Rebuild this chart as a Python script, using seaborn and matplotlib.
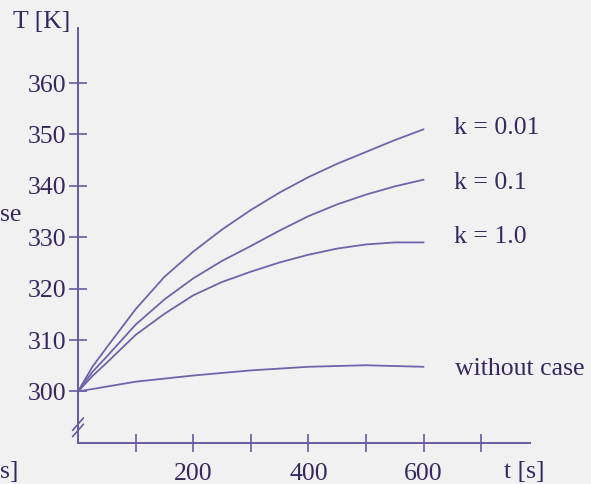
import numpy as np
import pandas as pd
import matplotlib
matplotlib.use("Agg")
import matplotlib.pyplot as plt
import seaborn as sns

# values
t = [0, 25, 50, 100, 150, 200, 250, 300, 350, 400, 450, 500, 550, 600]
T_k001 = [300, 304.8, 308.6, 316.0, 322.3, 327.2, 331.5, 335.3, 338.7, 341.7, 344.3, 346.6, 348.9, 351.0]
T_k01 = [300, 303.8, 306.8, 313.0, 317.9, 322.0, 325.4, 328.3, 331.3, 334.1, 336.4, 338.3, 339.9, 341.2]
T_k1 = [300, 303.0, 305.6, 311.0, 315.1, 318.7, 321.3, 323.3, 325.1, 326.6, 327.8, 328.6, 329.0, 329.0]
t_nocase = [0, 100, 200, 300, 400, 500, 600]
T_nocase = [300, 301.9, 303.1, 304.1, 304.8, 305.1, 304.8]

labels = ["k = 0.01", "k = 0.1", "k = 1.0", "without case"]
label_pos = [(652, 351.3), (652, 340.6), (652, 330.1), (655, 304.3)]
yticks = [300, 310, 320, 330, 340, 350, 360]
xticks = [100, 200, 300, 400, 500, 600, 700]
xticklabels = ["", "200", "", "400", "", "600", ""]

df = pd.concat([
    pd.DataFrame({"t": t, "T": T_k001, "case": labels[0]}),
    pd.DataFrame({"t": t, "T": T_k01, "case": labels[1]}),
    pd.DataFrame({"t": t, "T": T_k1, "case": labels[2]}),
    pd.DataFrame({"t": t_nocase, "T": T_nocase, "case": labels[3]}),
])

sns.set_style("ticks")
plt.rcParams['font.family'] = ['Liberation Serif', 'DejaVu Serif']

line_col = "#7262aa"
axis_col = "#6a5aa0"
text_col = "#36285f"
bg = "#f1f1f2"
fs = 18.5

fig = plt.figure(figsize=(5.91, 4.84), dpi=100, facecolor=bg)
ax = fig.add_axes([0.132, 0.085, 0.765, 0.857])
ax.set_facecolor(bg)

sns.lineplot(data=df, x="t", y="T", hue="case", palette=[line_col] * 4,
             legend=False, linewidth=1.3, sort=False, estimator=None, ax=ax)

ax.set_xlim(0, 785)
ax.set_ylim(290, 370.7)
sns.despine(ax=ax)
for s in ["left", "bottom"]:
    ax.spines[s].set_color(axis_col)
    ax.spines[s].set_linewidth(1.4)

ax.set_yticks(yticks)
ax.set_yticklabels([str(v) for v in yticks])
ax.set_xticks(xticks)
ax.set_xticklabels(xticklabels)
ax.tick_params(axis="both", direction="inout", length=13, width=1.2, color=axis_col,
               labelcolor=text_col, labelsize=fs)
ax.tick_params(axis="y", pad=2)
ax.tick_params(axis="x", pad=8)
ax.set_xlabel("")
ax.set_ylabel("")

for lab, (x, y) in zip(labels, label_pos):
    ax.text(x, y, lab, fontsize=fs, color=text_col, va="center", ha="left")

# axis break mark
d = dict(transform=ax.transAxes, color=axis_col, lw=1.2, clip_on=False)
ax.plot([-0.012, 0.012], [0.015, 0.045], **d)
ax.plot([-0.012, 0.012], [0.03, 0.06], **d)

fig.text(0.022, 0.955, "T [K]", fontsize=fs, color=text_col, va="center", ha="left")
fig.text(0.852, 0.025, "t [s]", fontsize=fs, color=text_col, va="center", ha="left")
# fragments of the neighbouring figure visible at the scan's left edge
fig.text(0.0, 0.555, "se", fontsize=fs, color=text_col, va="center", ha="left")
fig.text(0.0, 0.025, "s]", fontsize=fs, color=text_col, va="center", ha="left")

fig.savefig("out.png", dpi=100, facecolor=bg)
